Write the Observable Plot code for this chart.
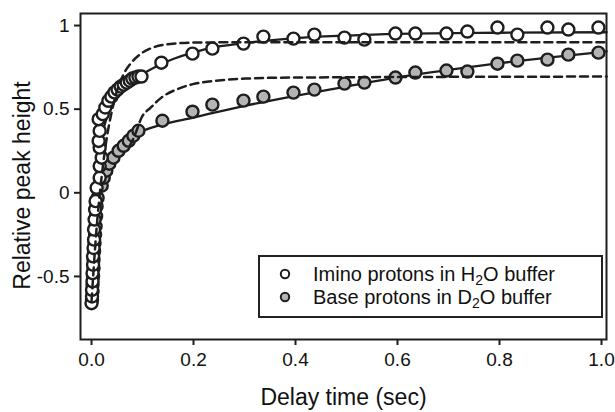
<!DOCTYPE html>
<html>
<head>
<meta charset="utf-8">
<script src="https://cdn.jsdelivr.net/npm/d3@7"></script>
<script src="https://cdn.jsdelivr.net/npm/@observablehq/plot@0.6"></script>
<style>
  html, body { margin: 0; padding: 0; background: #fff; }
  #wrap { position: relative; width: 615px; height: 412px; font-family: "Liberation Sans", Arial, sans-serif; color: #111; }
  #legend { position: absolute; left: 258px; top: 255px; width: 341px; height: 59px; border: 2px solid #222; background: #fff; }
  .item { position: absolute; left: 0; height: 22px; display: flex; align-items: center; font-size: 20px; white-space: nowrap; }
  .item svg { margin-left: 19px; margin-right: 22px; }
  sub { font-size: 14px; vertical-align: -4px; line-height: 0; }
</style>
</head>
<body>
<div id="wrap"></div>
<script>
// Imino protons in H2O buffer (open circles)
const iminoT = [0.000,0.001,0.001,0.002,0.002,0.003,0.003,0.004,0.005,0.005,0.006,0.007,0.008,
  0.010,0.016,0.016,0.020,0.016,0.014,0.016,0.014,
  0.022,0.027,0.033,0.039,0.045,0.051,0.057,0.063,0.069,0.075,0.080,0.086,0.092,0.098,
  0.137,0.198,0.237,0.298,0.337,0.396,0.437,0.496,0.535,0.596,0.635,0.696,0.737,0.796,0.835,0.894,0.935,0.994];
const iminoV = [-0.66,-0.62,-0.58,-0.53,-0.48,-0.43,-0.38,-0.33,-0.28,-0.22,-0.16,-0.10,-0.05,
  0.03,0.09,0.16,0.21,0.27,0.31,0.37,0.44,
  0.47,0.51,0.55,0.575,0.60,0.617,0.635,0.647,0.659,0.67,0.683,0.689,0.695,0.695,
  0.778,0.832,0.862,0.892,0.934,0.922,0.946,0.928,0.916,0.952,0.952,0.952,0.964,0.988,0.946,0.988,0.976,0.988];

// Base protons in D2O buffer (grey circles)
const baseT = [0.001,0.002,0.002,0.003,0.004,0.004,0.005,0.006,0.007,0.008,0.009,0.010,0.012,
  0.020,0.024,0.029,0.035,0.043,0.053,0.063,0.073,0.082,0.092,
  0.139,0.198,0.237,0.298,0.337,0.396,0.437,0.496,0.535,0.596,0.635,0.696,0.737,0.796,0.835,0.894,0.935,0.994];
const baseV = [-0.64,-0.59,-0.55,-0.50,-0.45,-0.40,-0.35,-0.30,-0.25,-0.20,-0.14,-0.08,-0.03,
  0.042,0.09,0.132,0.174,0.21,0.251,0.281,0.311,0.341,0.371,
  0.431,0.485,0.527,0.551,0.575,0.599,0.617,0.653,0.659,0.689,0.719,0.731,0.725,0.772,0.790,0.796,0.826,0.838];

// Fitted curves (solid)
const fitIminoT = [0,0.003,0.006,0.010,0.015,0.020,0.030,0.040,0.050,0.060,0.080,0.100,0.130,0.160,0.200,0.250,0.300,0.400,0.500,0.600,0.800,1.010];
const fitIminoV = [-0.66,-0.40,-0.15,0.05,0.22,0.33,0.45,0.52,0.57,0.61,0.67,0.71,0.76,0.80,0.84,0.875,0.895,0.925,0.94,0.95,0.957,0.96];
const fitBaseT = [0,0.004,0.008,0.012,0.016,0.020,0.030,0.040,0.050,0.060,0.080,0.100,0.140,0.200,0.300,0.400,0.500,0.600,0.700,0.800,0.900,1.010];
const fitBaseV = [-0.66,-0.40,-0.18,-0.04,0.04,0.09,0.17,0.22,0.26,0.29,0.34,0.37,0.41,0.45,0.52,0.58,0.635,0.69,0.735,0.775,0.81,0.845];

// Single-exponential curves (dashed)
const dashIminoT = [0,0.010,0.020,0.030,0.040,0.050,0.063,0.076,0.096,0.122,0.155,0.200,0.300,1.010];
const dashIminoV = [-0.65,-0.21,0.10,0.33,0.49,0.61,0.71,0.77,0.83,0.87,0.89,0.898,0.90,0.90];
const dashBaseT = [0.075,0.086,0.098,0.116,0.137,0.171,0.204,0.249,0.302,0.392,1.010];
const dashBaseV = [0.28,0.353,0.449,0.509,0.569,0.623,0.653,0.671,0.683,0.689,0.695];

const xTicks = [0, 0.2, 0.4, 0.6, 0.8, 1.0];
const yTicks = [-0.5, 0, 0.5, 1];
const xTitle = "Delay time (sec)";
const yTitle = "Relative peak height";

const zip = (t, v) => t.map((d, i) => ({t: d, v: v[i]}));
const imino = zip(iminoT, iminoV);
const base = zip(baseT, baseV);
const fitImino = zip(fitIminoT, fitIminoV);
const fitBase = zip(fitBaseT, fitBaseV);
const dashImino = zip(dashIminoT, dashIminoV);
const dashBase = zip(dashBaseT, dashBaseV);

const ink = "#1e1e1e";

const chart = Plot.plot({
  width: 615,
  height: 412,
  marginLeft: 80,
  marginRight: 9,
  marginTop: 13,
  marginBottom: 73,
  style: {background: "white", color: "#111", fontFamily: "'Liberation Sans', Arial, sans-serif", fontSize: "19px"},
  x: {domain: [-0.0216, 1.0098]},
  y: {domain: [-0.877, 1.072]},
  marks: [
    Plot.line(fitImino, {x: "t", y: "v", stroke: ink, strokeWidth: 2.3, curve: "monotone-x"}),
    Plot.line(fitBase, {x: "t", y: "v", stroke: ink, strokeWidth: 2.3, curve: "monotone-x"}),
    Plot.dot(base, {x: "t", y: "v", r: 6, fill: "#b4b4b4", stroke: ink, strokeWidth: 2.4}),
    Plot.dot(imino, {x: "t", y: "v", r: 6, fill: "white", stroke: ink, strokeWidth: 2.4}),
    Plot.line(dashImino, {x: "t", y: "v", stroke: ink, strokeWidth: 2.5, strokeDasharray: "8,5", curve: "monotone-x"}),
    Plot.line(dashBase, {x: "t", y: "v", stroke: ink, strokeWidth: 2.5, strokeDasharray: "8,5", curve: "monotone-x"}),
    Plot.frame({stroke: ink, strokeWidth: 2}),
    Plot.axisX({ticks: xTicks, tickFormat: d3.format(".1f"), tickSize: 6, tickPadding: 7, stroke: ink, strokeWidth: 2, label: null, fontSize: 19}),
    Plot.axisY({ticks: yTicks, tickFormat: d => String(d), tickSize: 6, tickPadding: 5, stroke: ink, strokeWidth: 2, label: null, fontSize: 19}),
    Plot.text([xTitle], {frameAnchor: "bottom", textAnchor: "middle", lineAnchor: "middle", dy: 58, fontSize: 23, fill: "#111"}),
    Plot.text([yTitle], {frameAnchor: "left", textAnchor: "middle", lineAnchor: "middle", rotate: -90, dx: -58, dy: 9, fontSize: 23, fill: "#111"})
  ]
});

const wrap = document.getElementById("wrap");
wrap.appendChild(chart);

const legend = document.createElement("div");
legend.id = "legend";
const items = [
  {fill: "white", html: "Imino protons in H<sub>2</sub>O buffer", top: 6},
  {fill: "#b4b4b4", html: "Base protons in D<sub>2</sub>O buffer", top: 29}
];
for (const it of items) {
  const row = document.createElement("div");
  row.className = "item";
  row.style.top = it.top + "px";
  row.innerHTML = `<svg width="12" height="12"><circle cx="6" cy="6" r="4.2" fill="${it.fill}" stroke="${ink}" stroke-width="2"/></svg><span>${it.html}</span>`;
  legend.appendChild(row);
}
wrap.appendChild(legend);
</script>
</body>
</html>
